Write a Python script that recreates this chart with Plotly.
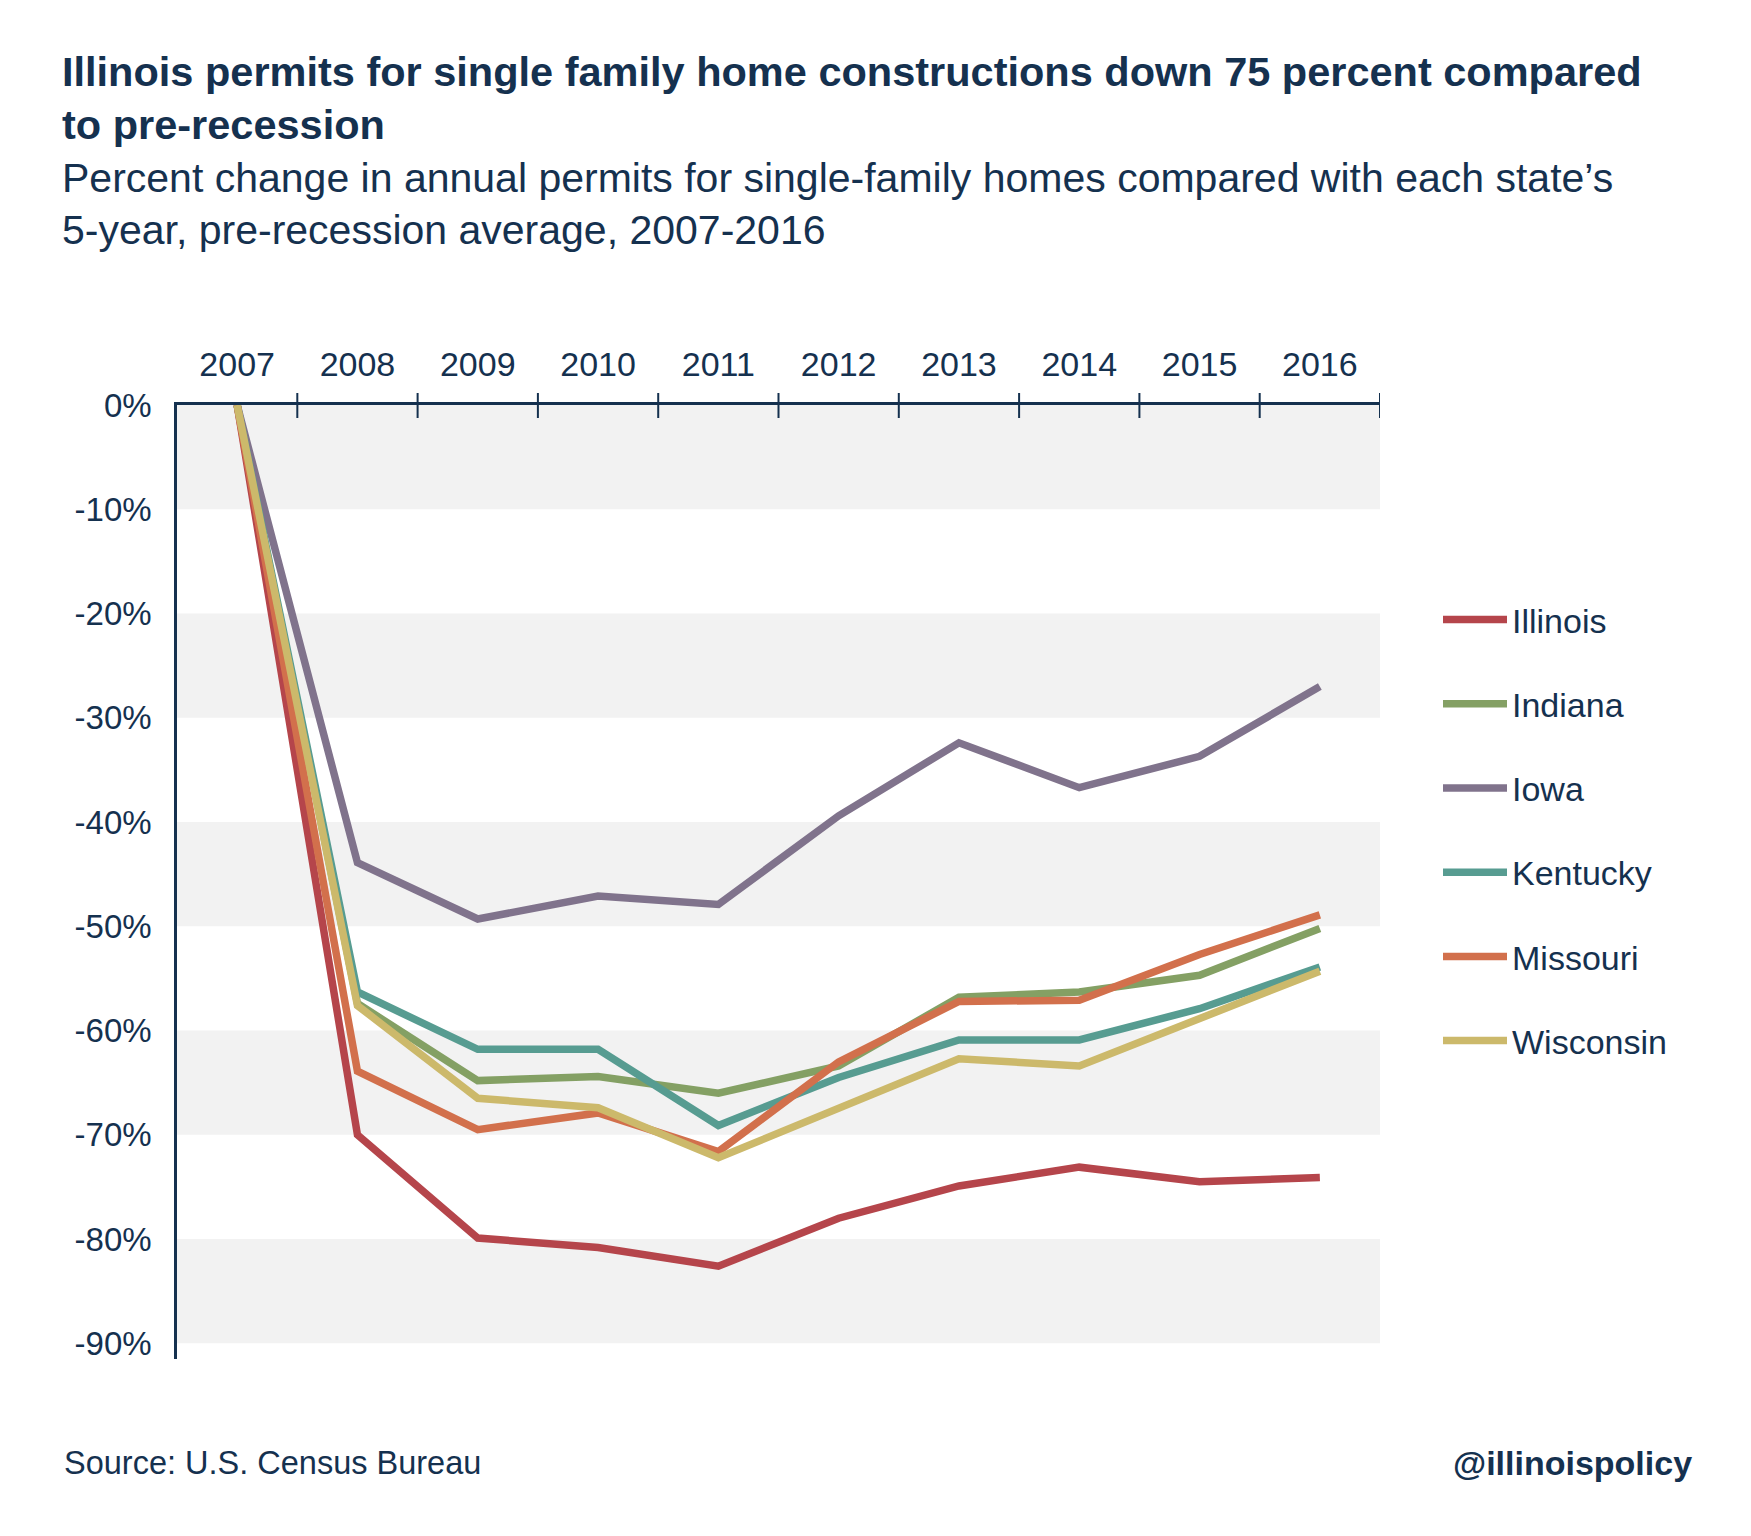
import plotly.graph_objects as go

years = [2007, 2008, 2009, 2010, 2011, 2012, 2013, 2014, 2015, 2016]
illinois = [0, -70.0, -79.9, -80.8, -82.6, -78.0, -74.9, -73.1, -74.5, -74.1]
indiana = [0, -57.4, -64.8, -64.4, -66.0, -63.4, -56.8, -56.3, -54.7, -50.2]
iowa = [0, -43.9, -49.3, -47.1, -47.9, -39.4, -32.4, -36.7, -33.7, -27.0]
kentucky = [0, -56.3, -61.8, -61.8, -69.1, -64.5, -60.9, -60.9, -57.9, -53.9]
missouri = [0, -63.9, -69.5, -67.9, -71.6, -63.0, -57.2, -57.1, -52.7, -48.9]
wisconsin = [0, -57.6, -66.5, -67.4, -72.2, -67.5, -62.7, -63.4, -58.8, -54.3]

series = [
    ("Illinois", illinois, "#B5454B"),
    ("Indiana", indiana, "#84A064"),
    ("Iowa", iowa, "#80738C"),
    ("Kentucky", kentucky, "#579C91"),
    ("Missouri", missouri, "#D2704C"),
    ("Wisconsin", wisconsin, "#CCB96B"),
]

y_ticks = [0, -10, -20, -30, -40, -50, -60, -70, -80, -90]
y_tick_text = ["0%", "-10%", "-20%", "-30%", "-40%", "-50%", "-60%", "-70%", "-80%", "-90%"]
bands = [(0, -10), (-20, -30), (-40, -50), (-60, -70), (-80, -90)]

title_lines = ["Illinois permits for single family home constructions down 75 percent compared",
               "to pre-recession"]
subtitle_lines = ["Percent change in annual permits for single-family homes compared with each state\u2019s",
                  "5-year, pre-recession average, 2007-2016"]
source_text = "Source: U.S. Census Bureau"
handle_text = "@illinoispolicy"

W, H = 1751, 1536
L, R, T, B = 169, 1372, 397, 1351
NAVY = "#15314F"
FONT = "Liberation Sans"


def px_x(x):
    return (x - L) / (R - L)


def px_y(y):
    return (B - y) / (B - T)


fig = go.Figure()
for name, vals, color in series:
    fig.add_trace(go.Scatter(
        x=years, y=vals, name=name, mode="lines",
        line=dict(color=color, width=7.5),
        legendgroup=name,
    ))

shapes = []
for top, bot in bands:
    shapes.append(dict(type="rect", xref="paper", yref="y", x0=0, x1=1, y0=bot, y1=top,
                       fillcolor="#F2F2F2", line=dict(width=0), layer="below"))
# tick marks at category boundaries on top axis
for yr in years:
    shapes.append(dict(type="line", xref="x", yref="paper", x0=yr + 0.5, x1=yr + 0.5,
                       y0=px_y(T - 12), y1=px_y(T + 13),
                       line=dict(color=NAVY, width=2)))

annotations = []
for i, line in enumerate(title_lines):
    annotations.append(dict(text="<b>" + line + "</b>", xref="paper", yref="paper",
                            x=px_x(52), y=px_y(64 + 52 * i), xanchor="left", yanchor="middle",
                            showarrow=False, font=dict(family=FONT, size=41.5, color=NAVY)))
for i, line in enumerate(subtitle_lines):
    annotations.append(dict(text=line, xref="paper", yref="paper",
                            x=px_x(52), y=px_y(170 + 52 * i), xanchor="left", yanchor="middle",
                            showarrow=False, font=dict(family=FONT, size=41, color=NAVY)))
annotations.append(dict(text=source_text, xref="paper", yref="paper",
                        x=px_x(54), y=px_y(1455), xanchor="left", yanchor="middle",
                        showarrow=False, font=dict(family=FONT, size=32.5, color=NAVY)))
annotations.append(dict(text="<b>" + handle_text + "</b>", xref="paper", yref="paper",
                        x=px_x(1686), y=px_y(1455), xanchor="right", yanchor="middle",
                        showarrow=False, font=dict(family=FONT, size=34, color=NAVY)))

fig.update_layout(
    width=W, height=H,
    margin=dict(l=L, r=W - R, t=T, b=H - B, pad=0),
    paper_bgcolor="white", plot_bgcolor="white",
    font=dict(family=FONT, color=NAVY),
    shapes=shapes, annotations=annotations,
    showlegend=True,
    legend=dict(x=px_x(1430), y=px_y(583), xanchor="left", yanchor="top",
                font=dict(family=FONT, size=34, color=NAVY),
                tracegroupgap=37, itemwidth=64, bgcolor="rgba(0,0,0,0)"),
    xaxis=dict(range=[2006.5, 2016.5], side="top", tickvals=years,
               ticktext=[str(y) for y in years], ticks="", showgrid=False, zeroline=False,
               showline=True, linecolor=NAVY, linewidth=2.5,
               tickfont=dict(family=FONT, size=34, color=NAVY), ticklabelstandoff=13),
    yaxis=dict(range=[-91.5, 0], tickvals=y_ticks, ticktext=y_tick_text, ticks="",
               showgrid=False, zeroline=False, showline=True, linecolor=NAVY, linewidth=2.5,
               tickfont=dict(family=FONT, size=33, color=NAVY), ticklabelstandoff=16),
)

fig.write_html("out.html")
